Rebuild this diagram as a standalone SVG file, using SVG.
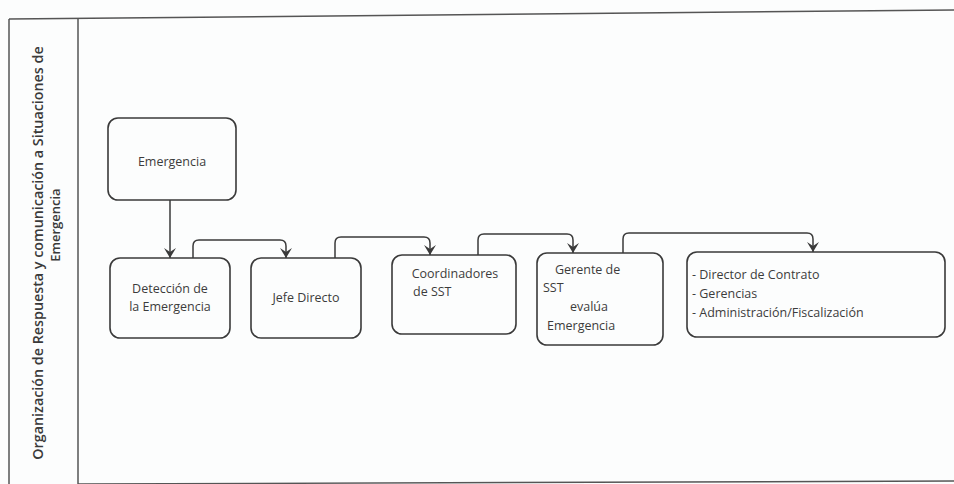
<svg xmlns="http://www.w3.org/2000/svg" width="954" height="484" viewBox="0 0 954 484">
<style>
.box{fill:none;stroke:#3a3a3a;stroke-width:1.6}
.t{font-family:"Open Sans","DejaVu Sans",sans-serif;font-size:12.5px;fill:#3c3c3c}
.side{font-family:"Open Sans","DejaVu Sans",sans-serif;font-weight:600;fill:#3a3a3a}
.frame{fill:none;stroke:#555;stroke-width:1.5}
.c{fill:none;stroke:#3a3a3a;stroke-width:1.5;marker-end:url(#arr)}
</style>
<defs>
<marker id="arr" viewBox="0 0 10 12" refX="10" refY="6" markerWidth="10" markerHeight="12" markerUnits="userSpaceOnUse" orient="auto">
<path d="M0,0 L4,6 L0,12 L10,6 Z" fill="#3a3a3a"/>
</marker>
</defs>
<rect width="954" height="484" fill="#fcfdfd"/>
<g id="frame">
<path class="frame" d="M9,19 L954,10"/>
<path class="frame" d="M9,19 L9,484"/>
<path class="frame" d="M78,18 L78,484"/>
<path class="frame" d="M78,484 L954,481"/>
</g>
<g id="side-label">
<text class="side" font-size="14.3" transform="translate(43,253) rotate(-90)" text-anchor="middle">Organización de Respuesta y comunicación a Situaciones de</text>
<text class="side" font-size="13" transform="translate(60,225) rotate(-90)" text-anchor="middle">Emergencia</text>
</g>
<g id="connectors">
<path class="c" d="M170,200 L170,258"/>
<path class="c" d="M193,258 L193,246 Q193,240 199,240 L280,240 Q286,240 286,246 L286,258"/>
<path class="c" d="M335,258 L335,243 Q335,237 341,237 L424,237 Q430,237 430,243 L430,255"/>
<path class="c" d="M478,255 L478,240 Q478,234 484,234 L567,234 Q573,234 573,240 L573,253"/>
<path class="c" d="M623,253 L623,239 Q623,233 629,233 L807,233 Q813,233 813,239 L813,252"/>
</g>
<g id="n-emergencia">
<rect class="box" x="108" y="118" width="128" height="82" rx="10"/>
<text class="t" x="172" y="166" text-anchor="middle">Emergencia</text>
</g>
<g id="n-deteccion">
<rect class="box" x="110" y="258" width="120" height="80" rx="10"/>
<text class="t" x="170" y="293" text-anchor="middle">Detección de</text>
<text class="t" x="170" y="311" text-anchor="middle">la Emergencia</text>
</g>
<g id="n-jefe">
<rect class="box" x="251" y="258" width="110" height="80" rx="10"/>
<text class="t" x="306" y="302" text-anchor="middle">Jefe Directo</text>
</g>
<g id="n-coord">
<rect class="box" x="392" y="255" width="124" height="79" rx="10"/>
<text class="t" x="455" y="278" text-anchor="middle">Coordinadores</text>
<text class="t" x="413" y="296">de SST</text>
</g>
<g id="n-gerente">
<rect class="box" x="537" y="253" width="126" height="92" rx="10"/>
<text class="t" x="555" y="274">Gerente de</text>
<text class="t" x="543" y="292">SST</text>
<text class="t" x="589" y="311" text-anchor="middle">evalúa</text>
<text class="t" x="547" y="330">Emergencia</text>
</g>
<g id="n-director">
<rect class="box" x="687" y="252" width="258" height="85" rx="10"/>
<text class="t" x="692" y="279">- Director de Contrato</text>
<text class="t" x="692" y="298">- Gerencias</text>
<text class="t" x="692" y="317">- Administración/Fiscalización</text>
</g>
</svg>
